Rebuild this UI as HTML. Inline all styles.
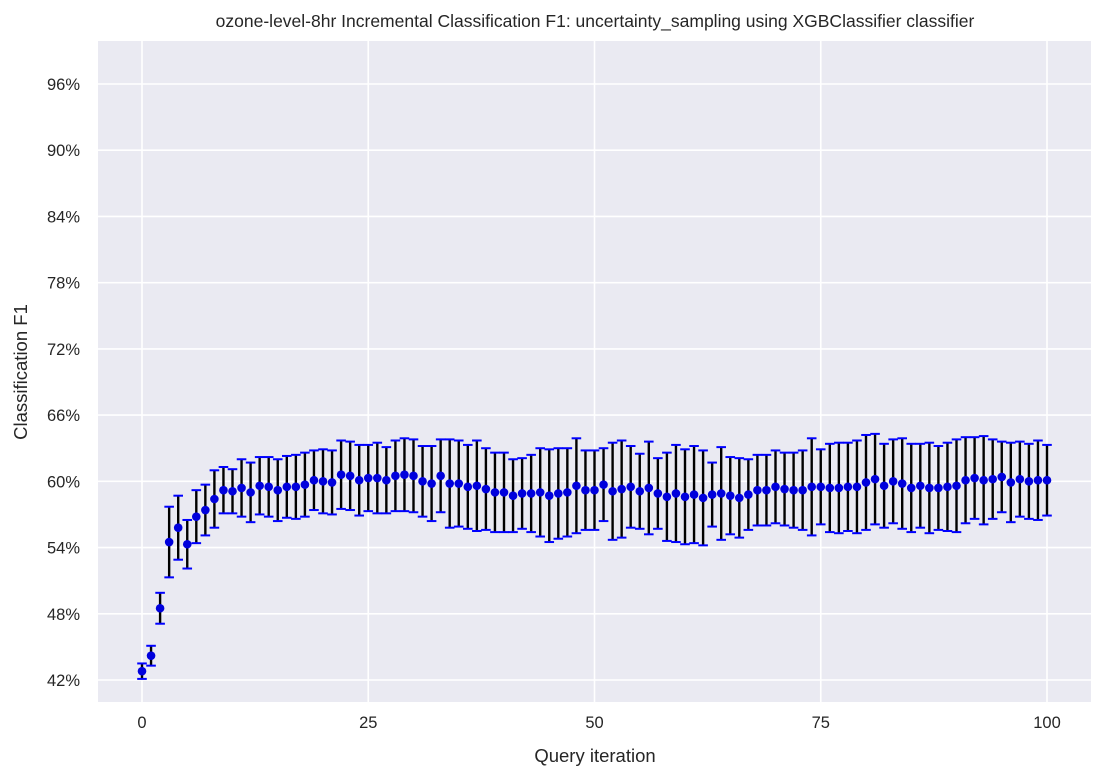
<!DOCTYPE html>
<html><head><meta charset="utf-8"><style>
body{margin:0;background:#fff;}
svg text{font-family:"Liberation Sans","DejaVu Sans",sans-serif;fill:#262626;}
</style></head><body>
<svg id="chart" width="1104" height="779" xmlns="http://www.w3.org/2000/svg">
<rect x="98" y="41" width="993" height="661" fill="#eaeaf2"/>
<g id="grid"></g>
<g id="bars"></g>
<g id="ticks"></g>
<text x="595" y="27" text-anchor="middle" font-size="17.5">ozone-level-8hr Incremental Classification F1: uncertainty_sampling using XGBClassifier classifier</text>
<text x="595" y="762" text-anchor="middle" font-size="18.5">Query iteration</text>
<text transform="translate(27,372) rotate(-90)" text-anchor="middle" font-size="18.5">Classification F1</text>
</svg>
<script>
const means=[42.8,44.2,48.5,54.5,55.8,54.3,56.8,57.4,58.4,59.2,59.1,59.4,59.0,59.6,59.5,59.2,59.5,59.5,59.7,60.1,60.0,59.9,60.6,60.5,60.1,60.3,60.3,60.1,60.5,60.6,60.5,60.0,59.8,60.5,59.8,59.8,59.5,59.6,59.3,59.0,59.0,58.7,58.9,58.9,59.0,58.7,58.9,59.0,59.6,59.2,59.2,59.7,59.1,59.3,59.5,59.1,59.4,58.9,58.6,58.9,58.6,58.8,58.5,58.8,58.9,58.7,58.5,58.8,59.2,59.2,59.5,59.3,59.2,59.2,59.5,59.5,59.4,59.4,59.5,59.5,59.9,60.2,59.6,60.0,59.8,59.4,59.6,59.4,59.4,59.5,59.6,60.1,60.3,60.1,60.2,60.4,59.9,60.2,60.0,60.1,60.1];
const errs=[0.7,0.9,1.4,3.2,2.9,2.2,2.4,2.3,2.6,2.1,2.0,2.6,2.7,2.6,2.7,2.8,2.8,2.9,2.9,2.7,2.9,2.9,3.1,3.1,3.2,3.0,3.2,3.0,3.2,3.3,3.3,3.2,3.4,3.3,4.0,3.9,3.8,4.1,3.7,3.6,3.6,3.3,3.2,3.5,4.0,4.2,4.1,4.0,4.3,3.6,3.6,3.3,4.4,4.4,3.7,3.4,4.2,3.2,4.0,4.4,4.3,4.4,4.3,2.9,4.2,3.5,3.6,3.2,3.2,3.2,3.3,3.3,3.4,3.6,4.4,3.4,4.0,4.1,4.0,4.2,4.3,4.1,3.8,3.8,4.1,4.0,3.8,4.1,3.8,4.0,4.2,3.9,3.7,4.0,3.6,3.2,3.6,3.4,3.4,3.6,3.2];
const yTicks=[42,48,54,60,66,72,78,84,90,96];
const xTicks=[0,25,50,75,100];
const NS="http://www.w3.org/2000/svg";
const X=v=>142+v*9.05;
const Y=v=>680-(v-42)*(596/54);
function mk(t,a,p){const e=document.createElementNS(NS,t);for(const k in a)e.setAttribute(k,a[k]);p.appendChild(e);return e;}
const grid=document.getElementById('grid'),ticks=document.getElementById('ticks'),bars=document.getElementById('bars');
yTicks.forEach(v=>{
 const l=mk('line',{x1:98,x2:1091,y1:Y(v),y2:Y(v),stroke:'#fff','stroke-width':1.6},grid);
 
 
 const t=mk('text',{x:80,y:Y(v)+6,'text-anchor':'end','font-size':16.5},ticks);t.textContent=v+'%';
 
 
});
xTicks.forEach(v=>{
 const l=mk('line',{x1:X(v),x2:X(v),y1:41,y2:702,stroke:'#fff','stroke-width':1.6},grid);
 
 
 const t=mk('text',{x:X(v),y:728,'text-anchor':'middle','font-size':16.5},ticks);t.textContent=v;
 
 
});
means.forEach((m,i)=>{
 const g=mk('g',{},bars);
 
 
 const x=X(i),y1=Y(m+errs[i]),y2=Y(m-errs[i]);
 mk('line',{x1:x,x2:x,y1:y1,y2:y2,stroke:'#000','stroke-width':2.4},g);
 mk('line',{x1:x-4.8,x2:x+4.8,y1:y1,y2:y1,stroke:'#0000ff','stroke-width':2},g);
 mk('line',{x1:x-4.8,x2:x+4.8,y1:y2,y2:y2,stroke:'#0000ff','stroke-width':2},g);
 mk('circle',{cx:x,cy:Y(m),r:4.3,fill:'#0000dd'},g);
});
</script>
</body></html>
